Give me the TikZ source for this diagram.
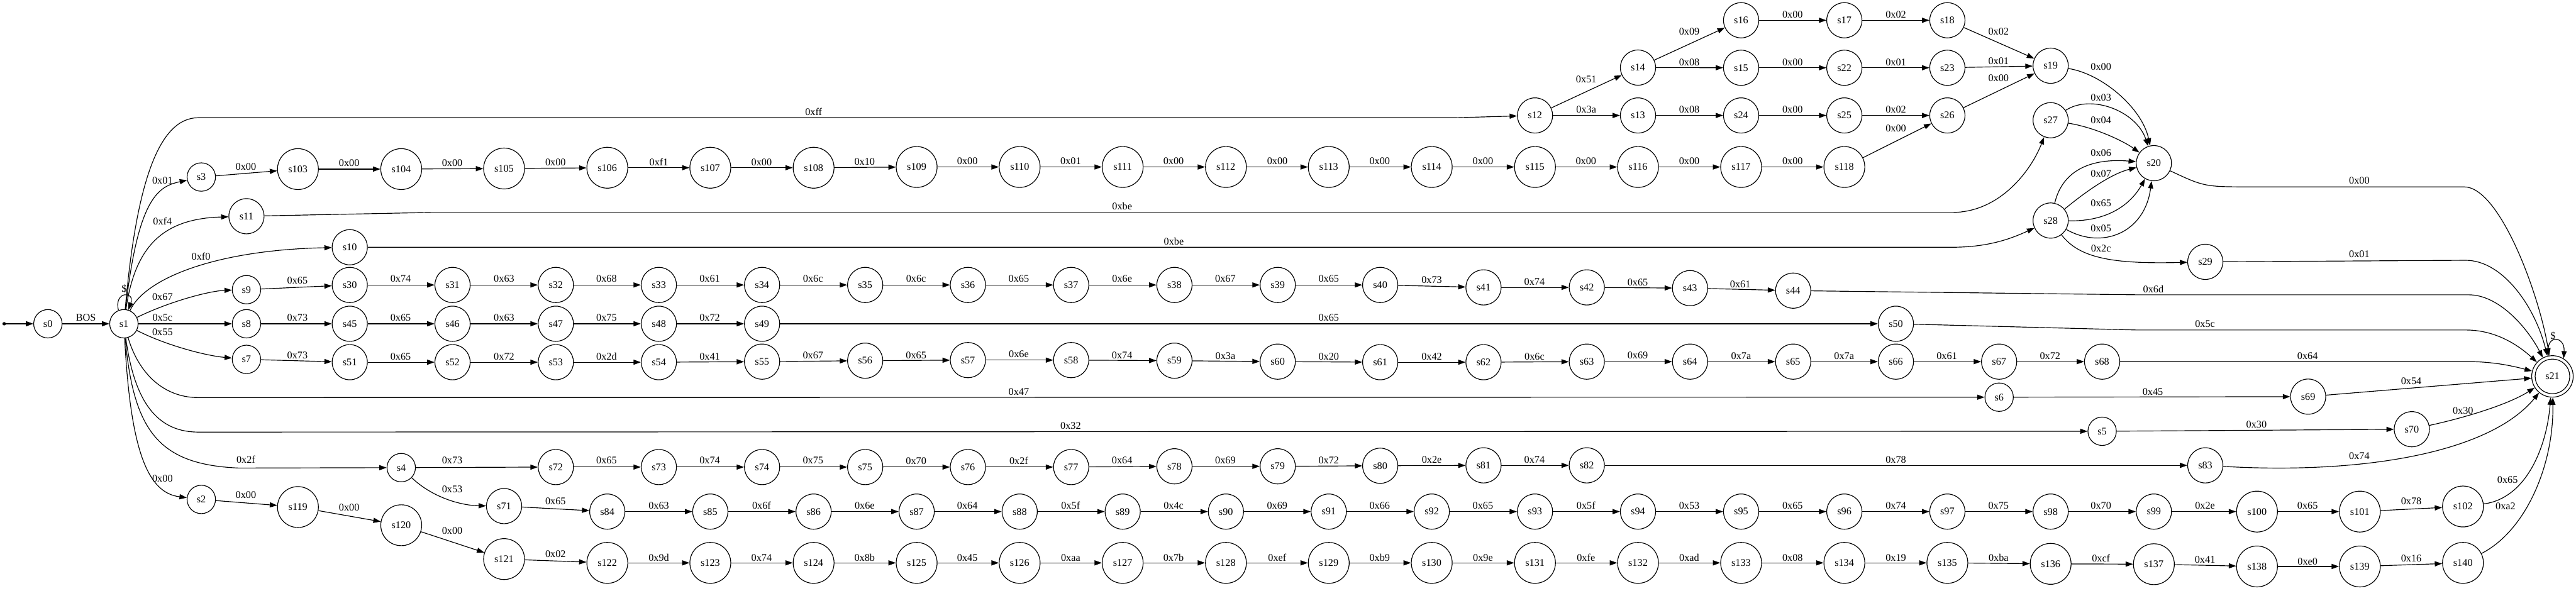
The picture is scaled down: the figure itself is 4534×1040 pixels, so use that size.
\documentclass[tikz,border=0pt]{standalone}
\usepackage{fontspec}
\setmainfont{Liberation Serif}
\usetikzlibrary{arrows.meta}
\tikzset{
  base/.style={circle, draw, line width=1.3pt, inner sep=0pt, font=\fontsize{18}{20}\selectfont},
  sa/.style={base, minimum size=50pt},
  sb/.style={base, minimum size=62pt},
  sc/.style={base, minimum size=72pt},
  sf/.style={base, minimum size=73pt},
  lab/.style={font=\fontsize{18}{20}\selectfont, inner sep=0pt},
  e/.style={line width=1.3pt, -{Triangle[length=13pt,width=9pt]}},
  dotst/.style={circle, fill, inner sep=0pt, minimum size=6pt}
}
\newcommand\St[4]{\node[#1] (#2) at (#3,#4) {#2};}
\newcommand\Ed[5]{\draw[e] (#1) -- (#2) node[lab] at (#3,#4) {#5};}
\begin{document}
\begin{tikzpicture}[x=1pt,y=-1pt]
\fill[white] (0,0) rectangle (4534,1040);
\useasboundingbox (0,0) rectangle (4534,1040);
% nodes
\node[dotst] (init) at (7.3,570) {};
\St{sa}{s0}{84.3}{570}
\St{sa}{s1}{218.1}{570}
\St{sa}{s2}{354.3}{879.3}
\St{sa}{s3}{354.3}{311.7}
\St{sa}{s4}{706.2}{823.3}
\St{sa}{s5}{3699.9}{759.3}
\St{sa}{s6}{3518.6}{699.3}
\St{sa}{s7}{433.8}{632.7}
\St{sa}{s8}{433.8}{570}
\St{sa}{s9}{433.8}{510}
\St{sb}{s10}{615.6}{435.3}
\St{sb}{s11}{433.8}{380.7}
\St{sb}{s12}{2701.7}{203.3}
\St{sb}{s13}{2883}{203.3}
\St{sb}{s14}{2883}{119}
\St{sb}{s15}{3064.5}{119.3}
\St{sb}{s16}{3064.5}{35.7}
\St{sb}{s17}{3246.2}{35.7}
\St{sb}{s18}{3427.5}{35.7}
\St{sb}{s19}{3609.3}{115.7}
\St{sb}{s20}{3791}{287.3}
\St{sb}{s22}{3246.2}{119.3}
\St{sb}{s23}{3427.5}{119.3}
\St{sb}{s24}{3064.5}{203.3}
\St{sb}{s25}{3246.2}{203.3}
\St{sb}{s26}{3427.5}{203.3}
\St{sb}{s27}{3609.3}{211.7}
\St{sb}{s28}{3609.3}{388.3}
\St{sb}{s29}{3881.5}{461}
\St{sb}{s30}{615.6}{501.7}
\St{sb}{s31}{796.5}{501.7}
\St{sb}{s32}{978.3}{501.7}
\St{sb}{s33}{1159.6}{501.7}
\St{sb}{s34}{1341.3}{501.7}
\St{sb}{s35}{1522.8}{501.7}
\St{sb}{s36}{1703.6}{501.7}
\St{sb}{s37}{1885.3}{501.7}
\St{sb}{s38}{2067.1}{501.7}
\St{sb}{s39}{2248.9}{501.7}
\St{sb}{s40}{2429.3}{501.7}
\St{sb}{s41}{2611.1}{506}
\St{sb}{s42}{2792.9}{506}
\St{sb}{s43}{2974.6}{507.3}
\St{sb}{s44}{3156.1}{511.7}
\St{sb}{s45}{615.6}{570}
\St{sb}{s46}{796.5}{570}
\St{sb}{s47}{978.3}{570}
\St{sb}{s48}{1159.6}{570}
\St{sb}{s49}{1341.3}{570}
\St{sb}{s50}{3336.9}{570}
\St{sb}{s51}{615.6}{637.7}
\St{sb}{s52}{796.5}{637.7}
\St{sb}{s53}{978.3}{637.7}
\St{sb}{s54}{1159.6}{637.7}
\St{sb}{s55}{1341.3}{636.7}
\St{sb}{s56}{1522.8}{635}
\St{sb}{s57}{1703.6}{634}
\St{sb}{s58}{1885.3}{634}
\St{sb}{s59}{2067.1}{635}
\St{sb}{s60}{2248.9}{636.7}
\St{sb}{s61}{2429.3}{637.7}
\St{sb}{s62}{2611.1}{637.7}
\St{sb}{s63}{2792.9}{636.7}
\St{sb}{s64}{2974.6}{636.7}
\St{sb}{s65}{3156.1}{636.7}
\St{sb}{s66}{3336.9}{636.7}
\St{sb}{s67}{3518.6}{636.7}
\St{sb}{s68}{3699.9}{636.7}
\St{sb}{s69}{4062.5}{698.3}
\St{sb}{s70}{4245}{755.7}
\St{sb}{s71}{887.2}{891}
\St{sb}{s72}{978.3}{822.3}
\St{sb}{s73}{1159.6}{822.3}
\St{sb}{s74}{1341.3}{822.3}
\St{sb}{s75}{1522.8}{822.3}
\St{sb}{s76}{1703.6}{822.3}
\St{sb}{s77}{1885.3}{822.3}
\St{sb}{s78}{2067.1}{821}
\St{sb}{s79}{2248.9}{821}
\St{sb}{s80}{2429.3}{820}
\St{sb}{s81}{2611.1}{819.3}
\St{sb}{s82}{2792.9}{819.3}
\St{sb}{s83}{3881.5}{819.3}
\St{sb}{s84}{1068.9}{900.7}
\St{sb}{s85}{1250.2}{900.7}
\St{sb}{s86}{1432}{900.7}
\St{sb}{s87}{1613.4}{900.7}
\St{sb}{s88}{1794.7}{900.7}
\St{sb}{s89}{1976}{900.7}
\St{sb}{s90}{2157.7}{900.7}
\St{sb}{s91}{2338.7}{900.7}
\St{sb}{s92}{2520}{900.7}
\St{sb}{s93}{2701.7}{900.7}
\St{sb}{s94}{2883}{900.7}
\St{sb}{s95}{3064.5}{900.7}
\St{sb}{s96}{3246.2}{900.7}
\St{sb}{s97}{3427.5}{900.7}
\St{sb}{s98}{3609.3}{900.7}
\St{sb}{s99}{3791}{900.7}
\St{sc}{s100}{3972.5}{900.7}
\St{sc}{s101}{4153.5}{900.7}
\St{sc}{s102}{4335}{891.7}
\St{sc}{s103}{524.4}{297.7}
\St{sc}{s104}{706.2}{297.7}
\St{sc}{s105}{887.2}{296.7}
\St{sc}{s106}{1068.9}{295.3}
\St{sc}{s107}{1250.2}{295.3}
\St{sc}{s108}{1432}{295.3}
\St{sc}{s109}{1613.4}{294}
\St{sc}{s110}{1794.7}{294}
\St{sc}{s111}{1976}{294}
\St{sc}{s112}{2157.7}{294}
\St{sc}{s113}{2338.7}{294}
\St{sc}{s114}{2520}{294}
\St{sc}{s115}{2701.7}{294}
\St{sc}{s116}{2883}{294}
\St{sc}{s117}{3064.5}{294}
\St{sc}{s118}{3246.2}{294}
\St{sc}{s119}{524.4}{892.7}
\St{sc}{s120}{706.2}{924.7}
\St{sc}{s121}{887.2}{984.3}
\St{sc}{s122}{1068.9}{991}
\St{sc}{s123}{1250.2}{991}
\St{sc}{s124}{1432}{991}
\St{sc}{s125}{1613.4}{991}
\St{sc}{s126}{1794.7}{991}
\St{sc}{s127}{1976}{991}
\St{sc}{s128}{2157.7}{991}
\St{sc}{s129}{2338.7}{991}
\St{sc}{s130}{2520}{991}
\St{sc}{s131}{2701.7}{991}
\St{sc}{s132}{2883}{991}
\St{sc}{s133}{3064.5}{991}
\St{sc}{s134}{3246.2}{991}
\St{sc}{s135}{3427.5}{991}
\St{sc}{s136}{3609.3}{992.7}
\St{sc}{s137}{3791}{993.3}
\St{sc}{s138}{3972.5}{997.3}
\St{sc}{s139}{4153.5}{997.3}
\St{sc}{s140}{4335}{991}
\St{sf}{s21}{4492.5}{662.7}
\draw[line width=1.3pt] (s21.center) circle[radius=30.5pt];
% straight edges
\draw[e] (init) -- (s0);
\Ed{s0}{s1}{151.2}{559.3}{BOS}
\Ed{s1}{s8}{286}{559.3}{0x5c}
\Ed{s8}{s45}{523.5}{559.3}{0x73}
\Ed{s45}{s46}{705.2}{559.3}{0x65}
\Ed{s46}{s47}{887.2}{559.3}{0x63}
\Ed{s47}{s48}{1067.5}{559.3}{0x75}
\Ed{s48}{s49}{1249.2}{559.3}{0x72}
\Ed{s49}{s50}{2338.7}{559.3}{0x65}
\Ed{s9}{s30}{523.5}{494}{0x65}
\Ed{s30}{s31}{705.2}{491}{0x74}
\Ed{s31}{s32}{887.2}{491}{0x63}
\Ed{s32}{s33}{1067.5}{491}{0x68}
\Ed{s33}{s34}{1249.2}{491}{0x61}
\Ed{s34}{s35}{1431}{491}{0x6c}
\Ed{s35}{s36}{1612.4}{491}{0x6c}
\Ed{s36}{s37}{1793.2}{491}{0x65}
\Ed{s37}{s38}{1975}{491}{0x6e}
\Ed{s38}{s39}{2156.8}{491}{0x67}
\Ed{s39}{s40}{2338.7}{491}{0x65}
\Ed{s40}{s41}{2520}{493.3}{0x73}
\Ed{s41}{s42}{2700.8}{495.7}{0x74}
\Ed{s42}{s43}{2882.5}{497.3}{0x65}
\Ed{s43}{s44}{3063}{500}{0x61}
\Ed{s7}{s51}{523.5}{625.7}{0x73}
\Ed{s51}{s52}{705.2}{627.3}{0x65}
\Ed{s52}{s53}{887.2}{627.3}{0x72}
\Ed{s53}{s54}{1067.5}{627.3}{0x2d}
\Ed{s54}{s55}{1249.2}{627.3}{0x41}
\Ed{s55}{s56}{1431}{626}{0x67}
\Ed{s56}{s57}{1612.4}{625.7}{0x65}
\Ed{s57}{s58}{1793.2}{623.3}{0x6e}
\Ed{s58}{s59}{1975}{625.7}{0x74}
\Ed{s59}{s60}{2156.8}{626.7}{0x3a}
\Ed{s60}{s61}{2338.7}{627.3}{0x20}
\Ed{s61}{s62}{2520}{627.3}{0x42}
\Ed{s62}{s63}{2700.8}{627.3}{0x6c}
\Ed{s63}{s64}{2882.5}{626}{0x69}
\Ed{s64}{s65}{3064.5}{626.7}{0x7a}
\Ed{s65}{s66}{3245.7}{626.7}{0x7a}
\Ed{s66}{s67}{3426.5}{626.7}{0x61}
\Ed{s67}{s68}{3608.3}{626.7}{0x72}
\Ed{s3}{s103}{432.8}{293.3}{0x00}
\Ed{s103}{s104}{614.6}{287.3}{0x00}
\Ed{s104}{s105}{796}{287.3}{0x00}
\Ed{s105}{s106}{977.8}{286}{0x00}
\Ed{s106}{s107}{1159.6}{285.3}{0xf1}
\Ed{s107}{s108}{1340.4}{285.3}{0x00}
\Ed{s108}{s109}{1521.8}{285}{0x10}
\Ed{s109}{s110}{1702.6}{283.3}{0x00}
\Ed{s110}{s111}{1884.4}{283.3}{0x01}
\Ed{s111}{s112}{2065.6}{283.3}{0x00}
\Ed{s112}{s113}{2248.2}{283.3}{0x00}
\Ed{s113}{s114}{2428.4}{283.3}{0x00}
\Ed{s114}{s115}{2610.1}{283.3}{0x00}
\Ed{s115}{s116}{2791.4}{283.3}{0x00}
\Ed{s116}{s117}{2973.2}{283.3}{0x00}
\Ed{s117}{s118}{3155.1}{283.3}{0x00}
\Ed{s118}{s26}{3336.9}{226}{0x00}
\Ed{s12}{s14}{2791.9}{139.3}{0x51}
\Ed{s12}{s13}{2791.9}{193.3}{0x3a}
\Ed{s14}{s16}{2973.2}{55}{0x09}
\Ed{s14}{s15}{2973.2}{109.3}{0x08}
\Ed{s13}{s24}{2973.2}{193.3}{0x08}
\Ed{s16}{s17}{3155.1}{26}{0x00}
\Ed{s17}{s18}{3336.9}{26}{0x02}
\Ed{s18}{s19}{3517.6}{55}{0x02}
\Ed{s15}{s22}{3155.1}{109.3}{0x00}
\Ed{s22}{s23}{3336.9}{109.3}{0x01}
\Ed{s23}{s19}{3517.6}{107.7}{0x01}
\Ed{s24}{s25}{3155.1}{193.3}{0x00}
\Ed{s25}{s26}{3336.9}{193.3}{0x02}
\Ed{s26}{s19}{3517.6}{137.3}{0x00}
\Ed{s4}{s72}{796}{811}{0x73}
\Ed{s72}{s73}{1067.5}{811}{0x65}
\Ed{s73}{s74}{1249.2}{811}{0x74}
\Ed{s74}{s75}{1431}{811}{0x75}
\Ed{s75}{s76}{1612.4}{811.7}{0x70}
\Ed{s76}{s77}{1793.2}{811.7}{0x2f}
\Ed{s77}{s78}{1975}{810.7}{0x64}
\Ed{s78}{s79}{2156.8}{810.7}{0x69}
\Ed{s79}{s80}{2338.7}{810}{0x72}
\Ed{s80}{s81}{2520}{809.3}{0x2e}
\Ed{s81}{s82}{2700.8}{809.3}{0x74}
\Ed{s82}{s83}{3336.9}{809.3}{0x78}
\Ed{s71}{s84}{977.8}{882.7}{0x65}
\Ed{s84}{s85}{1159.6}{890}{0x63}
\Ed{s85}{s86}{1340.4}{890}{0x6f}
\Ed{s86}{s87}{1521.8}{890}{0x6e}
\Ed{s87}{s88}{1702.6}{890}{0x64}
\Ed{s88}{s89}{1884.4}{890}{0x5f}
\Ed{s89}{s90}{2065.6}{890}{0x4c}
\Ed{s90}{s91}{2248}{890}{0x69}
\Ed{s91}{s92}{2428.4}{890}{0x66}
\Ed{s92}{s93}{2610.1}{890}{0x65}
\Ed{s93}{s94}{2791.4}{890}{0x5f}
\Ed{s94}{s95}{2973.2}{890}{0x53}
\Ed{s95}{s96}{3155.1}{890}{0x65}
\Ed{s96}{s97}{3336.9}{890}{0x74}
\Ed{s97}{s98}{3517.6}{890}{0x75}
\Ed{s98}{s99}{3697.9}{890}{0x70}
\Ed{s99}{s100}{3881}{890}{0x2e}
\Ed{s100}{s101}{4061.5}{890}{0x65}
\Ed{s101}{s102}{4244}{882.7}{0x78}
\Ed{s2}{s119}{432.8}{871}{0x00}
\Ed{s119}{s120}{614.6}{893.3}{0x00}
\Ed{s120}{s121}{796}{934.3}{0x00}
\Ed{s121}{s122}{977.8}{975}{0x02}
\Ed{s122}{s123}{1159.6}{981.7}{0x9d}
\Ed{s123}{s124}{1340.4}{981.7}{0x74}
\Ed{s124}{s125}{1521.8}{981.7}{0x8b}
\Ed{s125}{s126}{1702.6}{981.7}{0x45}
\Ed{s126}{s127}{1884.4}{981.7}{0xaa}
\Ed{s127}{s128}{2065.6}{981.7}{0x7b}
\Ed{s128}{s129}{2248}{981.7}{0xef}
\Ed{s129}{s130}{2428.4}{981.7}{0xb9}
\Ed{s130}{s131}{2610.1}{981.7}{0x9e}
\Ed{s131}{s132}{2791.4}{981.7}{0xfe}
\Ed{s132}{s133}{2973.2}{981.7}{0xad}
\Ed{s133}{s134}{3155.1}{981.7}{0x08}
\Ed{s134}{s135}{3336.9}{981.7}{0x19}
\Ed{s135}{s136}{3517.6}{981.7}{0xba}
\Ed{s136}{s137}{3697.9}{982.7}{0xcf}
\Ed{s137}{s138}{3881}{985}{0x41}
\Ed{s138}{s139}{4061.5}{988.3}{0xe0}
\Ed{s139}{s140}{4244}{982.7}{0x16}
\Ed{s6}{s69}{3789}{689.3}{0x45}
\Ed{s5}{s70}{3971.5}{747.3}{0x30}
\Ed{s69}{s21}{4244}{670.7}{0x54}
% curved edges from s1
\draw[e] (s1) .. controls (240,320) and (280,207.3) .. (349,207.3) -- (2560,207.3) -- (s12) node[lab] at (1432,197.3) {0xff};
\draw[e] (s1) .. controls (243,345) and (280,328) .. (s3) node[lab] at (286,318.3) {0x01};
\draw[e] (s1) .. controls (238,430) and (290,385) .. (s11) node[lab] at (286,390) {0xf4};
\draw[e] (s1) .. controls (255,490) and (380,440) .. (s10) node[lab] at (353.8,451.7) {0xf0};
\draw[e] (s1) .. controls (300,530) and (370,512) .. (s9) node[lab] at (286,523) {0x67};
\draw[e] (s1) .. controls (290,607) and (360,626) .. (s7) node[lab] at (286,585) {0x55};
\draw[e] (s1) .. controls (245,660) and (290,700) .. (349,700) -- (s6) node[lab] at (1793.2,689.3) {0x47};
\draw[e] (s1) .. controls (238,720) and (285,760.7) .. (349,760.7) -- (s5) node[lab] at (1884.4,750) {0x32};
\draw[e] (s1) .. controls (235,760) and (280,818) .. (420,824) -- (s4) node[lab] at (432.8,809.3) {0x2f};
\draw[e] (s1) .. controls (230,800) and (262,868) .. (s2) node[lab] at (286,842.3) {0x00};
\draw[e] (s1.112) .. controls (200,512) and (238,512) .. (s1.72) node[lab] at (218.6,508.3) {\$};
\draw[e] (s4) .. controls (760,875) and (810,890) .. (s71) node[lab] at (796,861) {0x53};
% long edges
\draw[e] (s11) -- (760,374) -- (3436,374) .. controls (3520,374) and (3575,300) .. (s27) node[lab] at (1975,363.3) {0xbe};
\draw[e] (s10) -- (3436,435.3) .. controls (3500,435.3) and (3540,420) .. (s28) node[lab] at (2066.1,425) {0xbe};
% into s20
\draw[e] (s19) .. controls (3700,130) and (3770,190) .. (s20) node[lab] at (3697.9,117.3) {0x00};
\draw[e] (s27) .. controls (3680,165) and (3760,195) .. (s20) node[lab] at (3697.9,171.7) {0x03};
\draw[e] (s27) .. controls (3690,225) and (3740,250) .. (s20) node[lab] at (3697.9,211.7) {0x04};
\draw[e] (s28) .. controls (3630,300) and (3680,278) .. (s20) node[lab] at (3697.9,269.3) {0x06};
\draw[e] (s28) .. controls (3680,330) and (3720,305) .. (s20) node[lab] at (3697.9,306) {0x07};
\draw[e] (s28) .. controls (3710,390) and (3750,360) .. (s20) node[lab] at (3697.9,357.3) {0x65};
\draw[e] (s28) .. controls (3700,440) and (3775,410) .. (s20) node[lab] at (3697.9,402.3) {0x05};
\draw[e] (s28) .. controls (3660,455) and (3720,465) .. (s29) node[lab] at (3697.9,437.3) {0x2c};
% into s21
\draw[e] (s20) .. controls (3880,329) .. (3965,329) -- (4337,329) .. controls (4400,329) and (4470,520) .. (s21) node[lab] at (4152.5,318.3) {0x00};
\draw[e] (s29) -- (4340,458.3) .. controls (4405,458.3) and (4462,540) .. (s21) node[lab] at (4152.5,447.7) {0x01};
\draw[e] (s44) -- (3760,519) -- (4345,519) .. controls (4400,519) and (4450,580) .. (s21) node[lab] at (3790,509.3) {0x6d};
\draw[e] (s50) -- (3760,581) -- (4340,581) .. controls (4395,581) and (4435,610) .. (s21) node[lab] at (3881,570) {0x5c};
\draw[e] (s68) -- (4345,636.7) .. controls (4390,636.7) and (4425,645) .. (s21) node[lab] at (4061.5,626.7) {0x64};
\draw[e] (s70) .. controls (4340,735) and (4415,712) .. (s21) node[lab] at (4335,722.7) {0x30};
\draw[e] (s83) .. controls (4150,835) and (4380,800) .. (s21) node[lab] at (4152.5,802.7) {0x74};
\draw[e] (s102) .. controls (4445,878) and (4482,790) .. (s21) node[lab] at (4413.5,845) {0x65};
\draw[e] (s140) .. controls (4445,935) and (4495,820) .. (s21) node[lab] at (4410,891) {0xa2};
\draw[e] (s21.100) .. controls (4478,588) and (4515,590) .. (s21.58) node[lab] at (4493.5,591.7) {\$};
\end{tikzpicture}
\end{document}
